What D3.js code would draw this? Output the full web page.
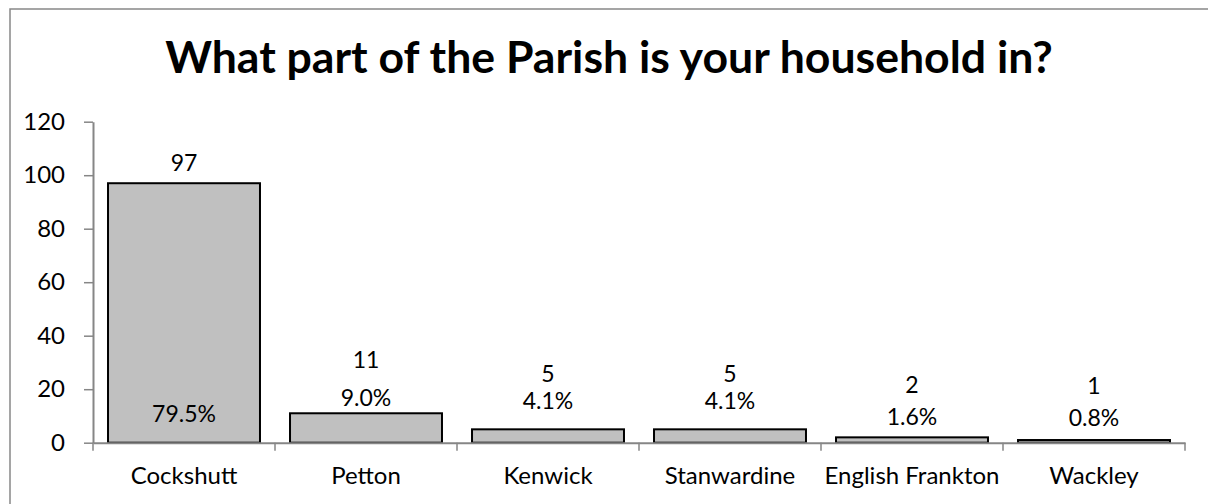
<!DOCTYPE html>
<html><head><meta charset="utf-8">
<script src="https://cdn.jsdelivr.net/npm/d3@7"></script>
<style>
html,body{margin:0;padding:0;background:#fff;overflow:hidden;}
svg{display:block;}
text{font-family:Lato,"Open Sans",sans-serif;fill:#000;}
</style></head>
<body>
<svg id="chart" width="1208" height="504"></svg>
<script>
const title = "What part of the Parish is your household in?";
const categories = ["Cockshutt","Petton","Kenwick","Stanwardine","English Frankton","Wackley"];
const counts = [97, 11, 5, 5, 2, 1];
const percents = ["79.5%","9.0%","4.1%","4.1%","1.6%","0.8%"];
const yTicks = [0,20,40,60,80,100,120];

// label placement offsets (px, relative to bar top) — layout, not data
const countLift = [21, 54, 56, 56, 53, 55];
const pctLift = [-230, 16, 29, 29, 21, 23];

const svg = d3.select("#chart");
const W = 1208, H = 504;
const m = {left:93, right:23, top:121.7, bottom:61.3};

// outer border (right and bottom edges fall outside the picture)
svg.append("rect").attr("x",10).attr("y",9).attr("width",W*2).attr("height",H*2)
  .attr("fill","#fff").attr("stroke","#888").attr("stroke-width",1.5);

const x = d3.scaleBand().domain(categories).range([m.left, W-m.right]).paddingInner(0.165).paddingOuter(0.0825);
const y = d3.scaleLinear().domain([0,120]).range([H-m.bottom, m.top]);

// title
const t = svg.append("text").attr("x",609).attr("y",73).attr("text-anchor","middle")
  .style("font-weight","bold").style("font-size","40px").text(title);
const tw = t.node().getComputedTextLength();
t.style("font-size", (40*888/tw)+"px");

// y axis
const yAxis = svg.append("g").attr("transform",`translate(${m.left},0)`)
  .call(d3.axisLeft(y).tickValues(yTicks).tickSize(9).tickPadding(19).tickSizeOuter(0));
yAxis.select(".domain").attr("stroke","#868686").attr("stroke-width",2);
yAxis.selectAll(".tick line").attr("stroke","#868686").attr("stroke-width",1.5);
yAxis.selectAll(".tick text").style("font-size","24px").style("font-family","Lato").attr("fill","#000");

// bars
svg.append("g").selectAll("rect").data(counts).join("rect")
  .attr("x",(d,i)=>x(categories[i]))
  .attr("y",d=>y(d))
  .attr("width",x.bandwidth())
  .attr("height",d=>y(0)-y(d))
  .attr("fill","#c0c0c0").attr("stroke","#000").attr("stroke-width",2);

// x axis
const xAxis = svg.append("g").attr("transform",`translate(0,${y(0)})`)
  .call(d3.axisBottom(x).tickSize(0).tickPadding(24));
xAxis.select(".domain").attr("stroke","#868686").attr("stroke-width",2);
xAxis.selectAll(".tick text").style("font-size","24px").style("font-family","Lato").attr("fill","#000");
const bounds = [m.left, ...categories.map(c=>x(c)+x.bandwidth()+x.step()*x.paddingInner()/2)];
bounds[bounds.length-1] = W-m.right;
svg.append("g").selectAll("line").data(bounds).join("line")
  .attr("x1",d=>d).attr("x2",d=>d).attr("y1",y(0)).attr("y2",y(0)+8)
  .attr("stroke","#868686").attr("stroke-width",1.5);

// labels
const lab = svg.append("g").style("font-size","23px");
lab.selectAll("text.c").data(counts).join("text").attr("class","c")
  .attr("x",(d,i)=>x(categories[i])+x.bandwidth()/2)
  .attr("y",(d,i)=>y(d)-countLift[i])
  .attr("text-anchor","middle").attr("dominant-baseline","central").text(d=>d);
lab.selectAll("text.p").data(percents).join("text").attr("class","p")
  .attr("x",(d,i)=>x(categories[i])+x.bandwidth()/2)
  .attr("y",(d,i)=>y(counts[i])-pctLift[i])
  .attr("text-anchor","middle").attr("dominant-baseline","central").text(d=>d);
</script>
</body></html>
